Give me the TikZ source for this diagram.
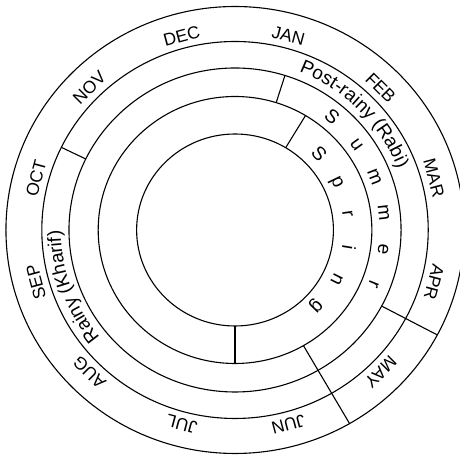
\documentclass[tikz,border=0pt]{standalone}
\usepackage{fontspec}
\setmainfont{Liberation Sans}
\usetikzlibrary{decorations.text}

\newcommand\seasonfont{\fontsize{19}{19}\selectfont}

\begin{document}
\begin{tikzpicture}[x=1.025pt, y=1pt, line width=1.1pt,
  month/.style={font=\fontsize{17.5}{17.5}\selectfont, inner sep=0pt},
  letter/.style={font=\seasonfont, inner sep=0pt, anchor=base}]
\useasboundingbox (-229.3,-228) rectangle (219.5,230);

% Concentric rings
\foreach \r in {96, 133.5, 162, 188.5, 223.5} {
    \draw (0,0) circle (\r);
}

% Ring dividers
\draw (154:162) -- (154:188.5);
\draw (-28:162) -- (-28:223.5);
\draw (-60:133.5) -- (-60:223.5);
\draw (72.5:133.5) -- (72.5:162);
\draw (59:96) -- (59:133.5);
\draw (-90:96) -- (-90:133.5);

% Months
\foreach \ang/\mon in {75/JAN, 45/FEB, 15/MAR, -15/APR, -45/MAY, -75/JUN, -105/JUL, -135/AUG, -165/SEP, 165/OCT, 135/NOV, 105/DEC} {
    \node[month, rotate=\ang-90] (\mon) at (\ang:201) {\mon};
}

% Seasons
\path[decorate, decoration={text along path, text align=center, text={|\seasonfont|Post-rainy (Rabi)}}]
    (89:170) arc[start angle=89, end angle=0, radius=170];
\path[decorate, decoration={text along path, text align=center, text={|\seasonfont|Rainy (Kharif)}}]
    (244.5:170) arc[start angle=244.5, end angle=154.5, radius=170];

% Summer
\foreach \ch [count=\i from 0] in {S,u,m,m,e,r} {
    \pgfmathsetmacro\ang{50-14.4*\i}
    \node[letter, rotate=\ang-90] (summer\i) at (\ang:141) {\ch};
}

% Spring
\foreach \ch [count=\i from 0] in {S,p,r,i,n,g} {
    \pgfmathsetmacro\ang{43-17.4*\i}
    \node[letter, rotate=\ang-90] (spring\i) at (\ang:106) {\ch};
}
\end{tikzpicture}
\end{document}
